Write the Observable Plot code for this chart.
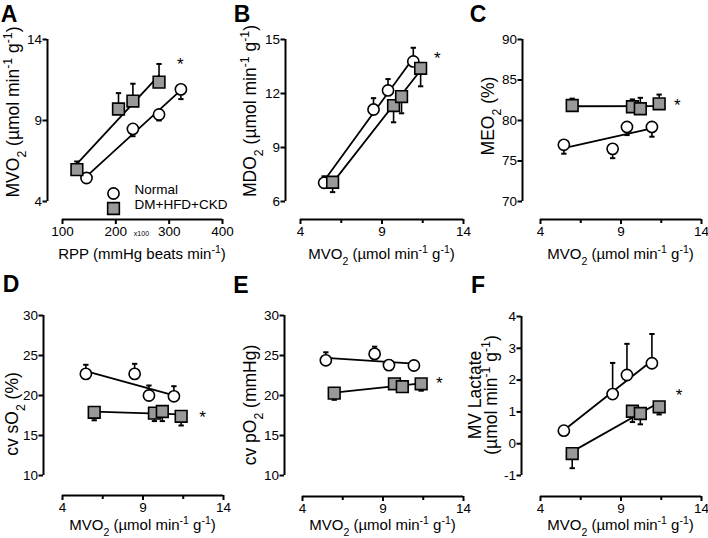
<!DOCTYPE html>
<html>
<head>
<meta charset="utf-8">
<script src="https://cdn.jsdelivr.net/npm/d3@7"></script>
<script src="https://cdn.jsdelivr.net/npm/@observablehq/plot@0.6"></script>
<style>
  body { margin: 0; background: white; }
  #fig { position: relative; width: 708px; height: 538px; font-family: Arial, "Liberation Sans", sans-serif; }
  #fig > div { position: absolute; }
</style>
</head>
<body>
<div id="fig"></div>
<script>
const groups = ["Normal", "DM+HFD+CKD"];

// MVO2 (umol/min/g): y of panel A, x of panels B-F
const mvo2Normal = [5.45, 8.48, 9.37, 10.92];
const mvo2DM = [5.97, 9.71, 10.2, 11.37];
const mvo2ErrNormal = [0.2, 0.45, 0.37, 0.6];
const mvo2ErrDM = [0.5, 0.98, 1.07, 1.12];

// RPP (x100 mmHg beats/min)
const rppNormal = [145, 232, 281, 322];
const rppDM = [127, 205, 232, 281];

const mdo2Normal = [7.04, 11.11, 12.17, 13.78];
const mdo2ErrNormal = [0.36, 0.63, 0.63, 0.76];
const mdo2DM = [7.07, 11.33, 11.83, 13.4];
const mdo2ErrDM = [0.55, 0.93, 0.93, 1.0];

const meo2Normal = [77.0, 76.5, 79.2, 79.2];
const meo2ErrNormal = [1.1, 1.15, 1.0, 1.2];
const meo2DM = [81.85, 81.7, 81.45, 82.06];
const meo2ErrDM = [0.85, 0.9, 1.35, 1.14];

const so2Normal = [22.7, 22.7, 20.0, 19.9];
const so2ErrNormal = [1.14, 1.26, 1.25, 1.26];
const so2DM = [17.9, 17.8, 18.0, 17.4];
const so2ErrDM = [1.0, 1.0, 1.2, 1.15];

const po2Normal = [24.4, 25.2, 23.8, 23.75];
const po2ErrNormal = [1.0, 0.9, 0.6, 0.55];
const po2DM = [20.3, 21.46, 21.1, 21.46];
const po2ErrDM = [0.84, 0.46, 0.6, 0.86];

const lacNormal = [0.41, 1.56, 2.16, 2.53];
const lacErrNormal = [0.1, 0.98, 0.98, 0.92];
const lacDM = [-0.31, 1.02, 0.95, 1.16];
const lacErrDM = [0.46, 0.34, 0.34, 0.24];

const mvo2Ticks = [4, 9, 14];
const mvo2Minor = [6.5, 11.5];

function rows(xN, yN, eN, xD, yD, eD) {
  return [
    ...xN.map((x, i) => ({group: groups[0], x, y: yN[i], err: eN[i]})),
    ...xD.map((x, i) => ({group: groups[1], x, y: yD[i], err: eD[i]}))
  ];
}

const mvoTitle = "MVO_2 (µmol min^-1 g^-1)";

// dir: error bar direction for [Normal, DM]
const panels = [
  {letter: "A", left: 0, top: 0, h: 268, m: [39, 14, 49, 47], inset: [15, 18],
   data: rows(rppNormal, mvo2Normal, mvo2ErrNormal, rppDM, mvo2DM, mvo2ErrDM),
   xTicks: [100, 200, 300, 400], minor: [], yTicks: [4, 9, 14], dir: [-1, 1], star: [321, 12.77],
   xTitle: "RPP (mmHg beats min^-1)", xTitleY: 259, yTitle: [mvoTitle], yTitleX: [18.5], yTitleY: 112,
   letterPos: [9, 22], legend: true},
  {letter: "B", left: 236, top: 0, h: 268, m: [39, 9, 49, 49], inset: [15, 18],
   data: rows(mvo2Normal, mdo2Normal, mdo2ErrNormal, mvo2DM, mdo2DM, mdo2ErrDM),
   xTicks: mvo2Ticks, minor: mvo2Minor, yTicks: [6, 9, 12, 15], dir: [1, -1], star: [12.4, 14.2],
   xTitle: mvoTitle, xTitleY: 259, yTitle: ["MDO_2 (µmol min^-1 g^-1)"], yTitleX: [20], yTitleY: 111,
   letterPos: [6, 22]},
  {letter: "C", left: 472, top: 0, h: 268, m: [39, 7, 49, 50], inset: [18, 18],
   data: rows(mvo2Normal, meo2Normal, meo2ErrNormal, mvo2DM, meo2DM, meo2ErrDM),
   xTicks: mvo2Ticks, minor: mvo2Minor, yTicks: [70, 75, 80, 85, 90], dir: [-1, 1], star: [12.5, 82.5],
   xTitle: mvoTitle, xTitleY: 259, yTitle: ["MEO_2 (%)"], yTitleX: [22], yTitleY: 116,
   letterPos: [6, 22]},
  {letter: "D", left: 0, top: 268, h: 270, m: [47, 13, 43, 43], inset: [19, 20],
   data: rows(mvo2Normal, so2Normal, so2ErrNormal, mvo2DM, so2DM, so2ErrDM),
   xTicks: mvo2Ticks, minor: mvo2Minor, yTicks: [10, 15, 20, 25, 30], dir: [1, -1], star: [12.7, 17.9],
   xTitle: mvoTitle, xTitleY: 262, yTitle: ["cv sO_2 (%)"], yTitleX: [18], yTitleY: 146,
   letterPos: [11, 24]},
  {letter: "E", left: 236, top: 268, h: 270, m: [47, 9, 42, 48], inset: [18, 21],
   data: rows(mvo2Normal, po2Normal, po2ErrNormal, mvo2DM, po2DM, po2ErrDM),
   xTicks: mvo2Ticks, minor: mvo2Minor, yTicks: [10, 15, 20, 25, 30], dir: [1, -1], star: [12.5, 22.1],
   xTitle: mvoTitle, xTitleY: 262, yTitle: ["cv pO_2 (mmHg)"], yTitleX: [19.5], yTitleY: 137,
   letterPos: [5, 25]},
  {letter: "F", left: 472, top: 268, h: 270, m: [48, 7, 42, 49], inset: [19, 21],
   data: rows(mvo2Normal, lacNormal, lacErrNormal, mvo2DM, lacDM, lacErrDM),
   xTicks: mvo2Ticks, minor: mvo2Minor, yTicks: [-1, 0, 1, 2, 3, 4], dir: [1, -1], star: [12.6, 1.66],
   xTitle: mvoTitle, xTitleY: 262, yTitle: ["MV Lactate", "(µmol min^-1 g^-1)"], yTitleX: [9, 25], yTitleY: 127,
   letterPos: [6, 25]}
];

// horizontal cap for the error bars
const cap = {draw(context, size) { const w = Math.sqrt(size); context.moveTo(-w, 0); context.lineTo(w, 0); }};

// text with _x subscripts and ^-1 superscripts, centred on (x, y) after measuring
function richText(svg, str, x, y, rotate, size) {
  const t = d3.select(svg).append("text")
    .attr("font-size", size)
    .attr("fill", "black")
    .style("text-anchor", "start");
  str.split(/(_\w|\^-?\d)/).filter(s => s).forEach(s => {
    if (s[0] === "_") t.append("tspan").attr("baseline-shift", "sub").attr("font-size", "70%").text(s.slice(1));
    else if (s[0] === "^") t.append("tspan").attr("baseline-shift", "super").attr("font-size", "70%").text(s.slice(1));
    else t.append("tspan").text(s);
  });
  const w = t.node().getComputedTextLength();
  t.attr("transform", rotate ? `translate(${x},${y + w / 2}) rotate(-90)` : `translate(${x - w / 2},${y})`);
}

const fig = d3.select("#fig");

panels.forEach(p => {
  const [mt, mr, mb, ml] = p.m;
  const [iL, iB] = p.inset;
  const [xmin, xmax] = d3.extent(p.xTicks);
  const [ymin, ymax] = d3.extent(p.yTicks);
  const end = d => d.y + p.dir[groups.indexOf(d.group)] * d.err;

  const marks = [
    Plot.ruleX([xmin], {y1: ymin, y2: ymax, dx: -iL, strokeWidth: 2}),
    Plot.ruleY([ymin], {x1: xmin, x2: xmax, dy: iB, strokeWidth: 2}),
    Plot.axisY({ticks: p.yTicks, tickSize: 4.5, tickPadding: 1, strokeWidth: 2, tickFormat: d => String(d), label: null}),
    Plot.axisX({ticks: p.xTicks, tickSize: 5, tickPadding: 2, strokeWidth: 2, tickFormat: d => String(d), label: null}),
    Plot.linearRegressionY(p.data, {x: "x", y: "y", z: "group", stroke: "black", strokeWidth: 1.8, ci: 0}),
    Plot.ruleX(p.data, {x: "x", y1: "y", y2: end, strokeWidth: 1.6}),
    Plot.dot(p.data, {x: "x", y: end, symbol: cap, r: 1.5, fill: "none", stroke: "black", strokeWidth: 2}),
    Plot.dot(p.data, {filter: d => d.group === groups[0], x: "x", y: "y", symbol: "circle", r: 5.6, fill: "white", stroke: "black", strokeWidth: 1.6}),
    Plot.dot(p.data, {filter: d => d.group === groups[1], x: "x", y: "y", symbol: "square", r: 6.6, fill: "#999", stroke: "black", strokeWidth: 1.6}),
    Plot.text([p.star], {x: d => d[0], y: d => d[1], text: () => "*", fontSize: 17, dy: 5})
  ];
  if (p.minor.length) marks.push(Plot.axisX({ticks: p.minor, tickSize: 4, strokeWidth: 2, tickFormat: () => "", label: null}));
  if (p.legend) {
    marks.push(
      Plot.dot([groups[0]], {frameAnchor: "bottom-left", dx: 66, dy: -26, symbol: "circle", r: 5.6, fill: "white", stroke: "black", strokeWidth: 1.6}),
      Plot.dot([groups[1]], {frameAnchor: "bottom-left", dx: 66, dy: -11, symbol: "square", r: 6.6, fill: "#999", stroke: "black", strokeWidth: 1.6}),
      Plot.text([groups[0]], {frameAnchor: "bottom-left", dx: 87, dy: -26, text: d => d, textAnchor: "start", fontSize: 13.5}),
      Plot.text([groups[1]], {frameAnchor: "bottom-left", dx: 87, dy: -11, text: d => d, textAnchor: "start", fontSize: 13.5}),
      Plot.text(["x100"], {x: () => 248, frameAnchor: "bottom", dy: 16, text: d => d, fontSize: 7})
    );
  }

  const chart = Plot.plot({
    width: 236,
    height: p.h,
    marginTop: mt, marginRight: mr, marginBottom: mb, marginLeft: ml,
    insetLeft: iL, insetBottom: iB,
    x: {domain: [xmin, xmax]},
    y: {domain: [ymin, ymax]},
    style: {fontFamily: "Arial, 'Liberation Sans', sans-serif", fontSize: "13.5px", color: "black", background: "white", overflow: "visible"},
    marks
  });

  fig.append("div").style("left", p.left + "px").style("top", p.top + "px").node().append(chart);

  richText(chart, p.xTitle, ml + iL + (236 - mr - ml - iL) / 2, p.xTitleY, false, 15);
  p.yTitle.forEach((t, i) => richText(chart, t, p.yTitleX[i], p.yTitleY, true, 17.5));
  d3.select(chart).append("text").attr("x", p.letterPos[0]).attr("y", p.letterPos[1])
    .attr("font-size", 23).attr("font-weight", "bold").attr("fill", "black").text(p.letter);
});
</script>
</body>
</html>
